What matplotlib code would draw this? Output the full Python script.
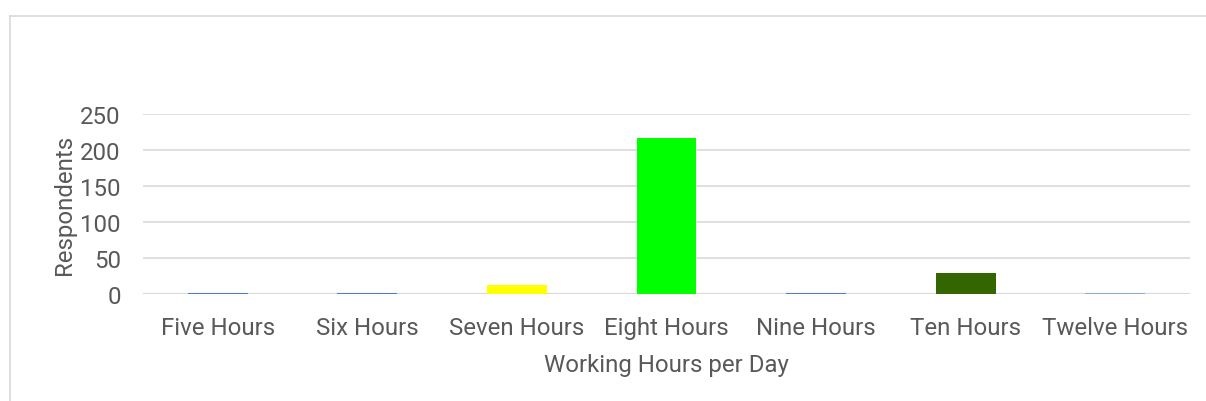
import matplotlib.pyplot as plt
from matplotlib.lines import Line2D

# data
categories = ['Five Hours', 'Six Hours', 'Seven Hours', 'Eight Hours',
              'Nine Hours', 'Ten Hours', 'Twelve Hours']
respondents = [2, 2, 12, 216, 2, 29, 1.5]
bar_colors = ['#4a7bd6', '#4a7bd6', '#ffff00', '#00ff00',
              '#4a7bd6', '#336600', '#8eaadb']
y_ticks = [0, 50, 100, 150, 200, 250]

plt.rcParams['font.family'] = ['Roboto', 'DejaVu Sans']
text_color = '#595959'

fig = plt.figure(figsize=(12.06, 4.02), dpi=100)
ax = fig.add_axes([0.1186, 0.2662, 0.8681, 0.4478])

x = range(len(categories))
ax.bar(x, respondents, width=0.4, color=bar_colors, zorder=3)

ax.set_xlim(-0.5, len(categories) - 0.5)
ax.set_ylim(0, 250)
ax.set_yticks(y_ticks)
ax.set_xticks(list(x))
ax.set_xticklabels(categories)
ax.yaxis.grid(True, color='#d9d9d9', linewidth=1.2, zorder=0)
ax.axhline(0, color='#d9d9d9', linewidth=1.6, zorder=1)

for s in ax.spines.values():
    s.set_visible(False)
ax.tick_params(axis='both', length=0, labelsize=17.3, labelcolor=text_color)
ax.tick_params(axis='y', pad=16)
ax.tick_params(axis='x', pad=16)

ax.set_xlabel('Working Hours per Day', fontsize=17.3, color=text_color, labelpad=10)
ax.set_ylabel('Respondents', fontsize=17.3, color=text_color, labelpad=3)

# light frame around the chart area (left and top edges visible)
fig.add_artist(Line2D([10 / 1206, 10 / 1206], [0, 1 - 17 / 402],
                      transform=fig.transFigure, color='#d9d9d9', linewidth=1.2))
fig.add_artist(Line2D([10 / 1206, 1], [1 - 17 / 402, 1 - 17 / 402],
                      transform=fig.transFigure, color='#d9d9d9', linewidth=1.2))

fig.savefig('out.png', dpi=100)
